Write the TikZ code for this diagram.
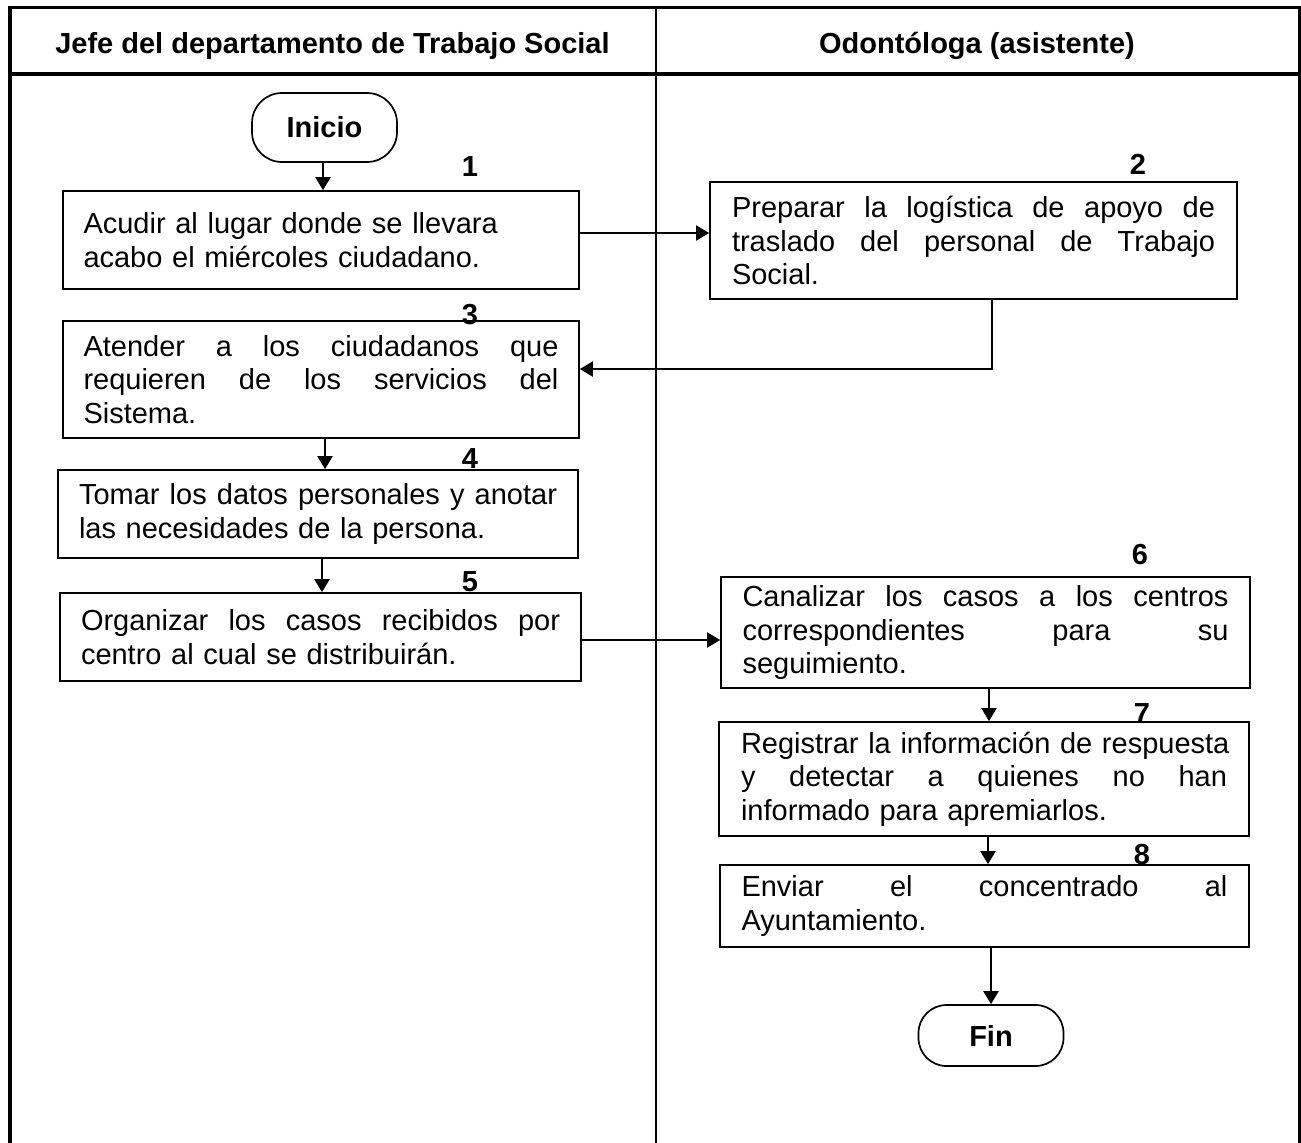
\documentclass[tikz,border=0pt]{standalone}
\usepackage{fontspec}
\setmainfont{Liberation Sans}
\usetikzlibrary{arrows.meta,calc}
\newcommand{\jl}[2]{\leavevmode\hbox to #1pt{#2}}
\begin{document}
\begin{tikzpicture}[x=1pt,y=-1pt,
  every node/.style={font=\fontsize{29}{33.5}\selectfont},
  procbox/.style={draw, line width=1.7pt, inner sep=0pt, align=left},
  termbox/.style={draw, line width=1.7pt, inner sep=0pt, rounded corners=30pt,
     minimum width=145pt, font=\fontsize{29}{33.5}\selectfont\bfseries},
  numlbl/.style={inner sep=0pt, font=\fontsize{29}{33.5}\selectfont\bfseries},
  hdr/.style={inner sep=0pt, anchor=base, font=\fontsize{29}{33.5}\selectfont\bfseries},
  conn/.style={line width=2pt, -{Triangle[length=13pt,width=15pt]}},
  frame/.style={line width=3.5pt},
  lane/.style={line width=1.7pt}
]
\useasboundingbox (0,0) rectangle (1301,1143);
\fill[white] (0,0) rectangle (1301,1143);

% frame and lanes
\draw[frame] (10,1143) -- (10,7.5) -- (1299.5,7.5) -- (1299.5,1143);
\draw[frame] (10,74) -- (1299.5,74);
\draw[lane] (656,7.5) -- (656,1143);

\node[hdr] (h1) at (332.5,53) {Jefe del departamento de Trabajo Social};
\node[hdr] (h2) at (977,53) {Odontóloga (asistente)};

% terminals
\node[termbox, minimum height=69pt] (inicio) at (324.5,127.5) {Inicio};
\node[termbox, minimum height=61pt, rounded corners=28pt] (fin) at (991,1035.5) {Fin};

% process boxes
\node[procbox, minimum width=516pt, minimum height=98pt, text width=475pt] (b1) at (321,240)
  {Acudir al lugar donde se llevara\\acabo el miércoles ciudadano.};
\node[procbox, minimum width=527pt, minimum height=117pt, text width=483pt] (b2) at (973.5,240.5)
  {\jl{483}{Preparar\hfill la\hfill logística\hfill de\hfill apoyo\hfill de}\\
   \jl{483}{traslado\hfill del\hfill personal\hfill de\hfill Trabajo}\\Social.};
\node[procbox, minimum width=516pt, minimum height=117pt, text width=475pt] (b3) at (321,379.5)
  {\jl{475}{Atender\hfill a\hfill los\hfill ciudadanos\hfill que}\\
   \jl{475}{requieren\hfill de\hfill los\hfill servicios\hfill del}\\Sistema.};
\node[procbox, minimum width=520pt, minimum height=88pt, text width=478pt] (b4) at (318,514)
  {\jl{478}{Tomar\hfill los\hfill datos\hfill personales\hfill y\hfill anotar}\\las necesidades de la persona.};
\node[procbox, minimum width=521pt, minimum height=88pt, text width=479pt] (b5) at (320.5,637)
  {\jl{479}{Organizar\hfill los\hfill casos\hfill recibidos\hfill por}\\centro al cual se distribuirán.};
\node[procbox, minimum width=529pt, minimum height=111pt, text width=486pt] (b6) at (985.5,632.5)
  {\jl{486}{Canalizar\hfill los\hfill casos\hfill a\hfill los\hfill centros}\\
   \jl{486}{correspondientes\hfill para\hfill su}\\seguimiento.};
\node[procbox, minimum width=530pt, minimum height=114pt, text width=486pt] (b7) at (984,779)
  {\jl{486}{Registrar la información de respuesta}\\
   \jl{486}{y\hfill detectar\hfill a\hfill quienes\hfill no\hfill han}\\informado para apremiarlos.};
\node[procbox, minimum width=529pt, minimum height=82pt, text width=486pt] (b8) at (984.5,906)
  {\jl{486}{Enviar\hfill el\hfill concentrado\hfill al}\\Ayuntamiento.};

% step numbers
\node[numlbl] (n1) at (470,167) {1};
\node[numlbl] (n2) at (1138,164) {2};
\node[numlbl] (n3) at (470,315) {3};
\node[numlbl] (n4) at (470,459) {4};
\node[numlbl] (n5) at (470,582) {5};
\node[numlbl] (n6) at (1140,555) {6};
\node[numlbl] (n7) at (1142,714) {7};
\node[numlbl] (n8) at (1142,855) {8};

% connectors
\coordinate (a1) at ([xshift=-1.5pt]inicio.south);
\draw[conn] (a1) -- (a1 |- b1.north);
\coordinate (a2) at ([yshift=7pt]b1.east);
\draw[conn] (a2) -- (a2 -| b2.west);
\coordinate (a3) at ([xshift=18.5pt]b2.south);
\coordinate (a3e) at ([yshift=10.5pt]b3.east);
\draw[conn] (a3) |- (a3e);
\coordinate (a4) at ([xshift=4pt]b3.south);
\draw[conn] (a4) -- (a4 |- b4.north);
\coordinate (a5) at ([xshift=4pt]b4.south);
\draw[conn] (a5) -- (a5 |- b5.north);
\coordinate (a6) at ([yshift=-3pt]b5.east);
\draw[conn] (a6) -- (a6 -| b6.west);
\coordinate (a7) at ([xshift=3.5pt]b6.south);
\draw[conn] (a7) -- (a7 |- b7.north);
\coordinate (a8) at ([xshift=4pt]b7.south);
\draw[conn] (a8) -- (a8 |- b8.north);
\draw[conn] (fin.north |- b8.south) -- (fin.north);
\end{tikzpicture}
\end{document}
